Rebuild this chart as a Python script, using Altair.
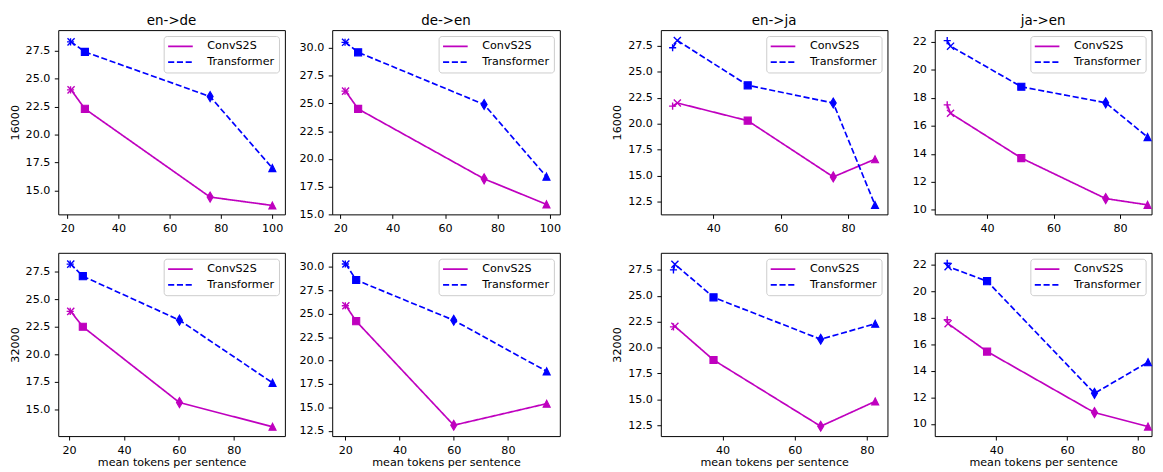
import altair as alt
import pandas as pd

FONT = "DejaVu Sans"

models = ["ConvS2S", "Transformer"]
model_colors = ["#bf00bf", "#0000ff"]
model_dashes = [[1, 0], [6.2, 2.7]]

marker_kinds = ["plus", "x", "square", "diamond", "triangle"]
marker_paths = [
    "M-1,0H1M0,-1V1",
    "M-1,-1L1,1M-1,1L1,-1",
    "M-1,-1H1V1H-1Z",
    "M0,-1.414L0.849,0L0,1.414L-0.849,0Z",
    "M0,-1L1,1L-1,1Z",
]
stroked_kinds = ["plus", "x"]
filled_kinds = ["square", "diamond", "triangle"]

pair_titles = ["en->de", "de->en", "en->ja", "ja->en"]
vocab_labels = ["16000", "32000"]
x_title = "mean tokens per sentence"

# ---- data: x = mean tokens per sentence, y = score ----
ende_16k_x = [21.3, 21.5, 26.9, 75.8, 100.1]
ende_16k_conv = [24.0, 24.0, 22.3, 14.4, 13.65]
ende_16k_trans = [28.3, 28.3, 27.4, 23.4, 17.0]

deen_16k_x = [21.8, 22.0, 26.8, 74.9, 98.7]
deen_16k_conv = [26.1, 26.1, 24.5, 18.2, 15.9]
deen_16k_trans = [30.5, 30.5, 29.6, 24.9, 18.4]

enja_16k_x = [27.9, 29.3, 50.2, 75.6, 88.0]
enja_16k_conv = [21.7, 22.0, 20.3, 14.9, 16.6]
enja_16k_trans = [27.3, 28.0, 23.7, 22.0, 12.2]

jaen_16k_x = [28.0, 29.0, 50.3, 75.7, 88.3]
jaen_16k_conv = [17.5, 16.9, 13.7, 10.8, 10.35]
jaen_16k_trans = [22.1, 21.7, 18.8, 17.65, 15.2]

ende_32k_x = [20.4, 20.6, 25.0, 60.2, 94.1]
ende_32k_conv = [23.9, 23.9, 22.5, 15.6, 13.4]
ende_32k_trans = [28.2, 28.2, 27.1, 23.1, 17.4]

deen_32k_x = [20.0, 20.2, 24.0, 60.0, 94.3]
deen_32k_conv = [25.85, 25.85, 24.2, 13.1, 15.4]
deen_32k_trans = [30.3, 30.3, 28.6, 24.3, 18.85]

enja_32k_x = [26.4, 26.8, 37.5, 67.2, 82.3]
enja_32k_conv = [22.0, 22.05, 18.8, 12.4, 14.8]
enja_32k_trans = [27.5, 28.05, 24.85, 20.8, 22.3]

jaen_32k_x = [26.15, 26.4, 37.4, 67.7, 82.8]
jaen_32k_conv = [17.85, 17.55, 15.45, 10.85, 9.8]
jaen_32k_trans = [22.1, 21.85, 20.75, 12.3, 14.65]

# ---- axis ranges and ticks ----
x_domains = [
    [[16.5, 105.0], [16.9, 103.8], [24.4, 91.7], [24.25, 89.5]],
    [[16.05, 98.6], [15.15, 99.15], [22.9, 85.7], [22.64, 83.8]],
]
y_domains = [
    [[12.85, 29.35], [15.0, 31.6], [11.3, 29.0], [9.67, 22.85]],
    [[12.55, 29.23], [11.94, 31.5], [11.45, 29.15], [9.08, 22.89]],
]
x_ticks = [
    [[20, 40, 60, 80, 100], [20, 40, 60, 80, 100], [40, 60, 80], [40, 60, 80]],
    [[20, 40, 60, 80], [20, 40, 60, 80], [40, 60, 80], [40, 60, 80]],
]
y_ticks = [
    [[15.0, 17.5, 20.0, 22.5, 25.0, 27.5], [15.0, 17.5, 20.0, 22.5, 25.0, 27.5, 30.0],
     [12.5, 15.0, 17.5, 20.0, 22.5, 25.0, 27.5], [10, 12, 14, 16, 18, 20, 22]],
    [[15.0, 17.5, 20.0, 22.5, 25.0, 27.5], [12.5, 15.0, 17.5, 20.0, 22.5, 25.0, 27.5, 30.0],
     [12.5, 15.0, 17.5, 20.0, 22.5, 25.0, 27.5], [10, 12, 14, 16, 18, 20, 22]],
]
y_formats = [".1f", ".1f", ".1f", "d"]

series = [
    [(ende_16k_x, ende_16k_conv, ende_16k_trans), (deen_16k_x, deen_16k_conv, deen_16k_trans),
     (enja_16k_x, enja_16k_conv, enja_16k_trans), (jaen_16k_x, jaen_16k_conv, jaen_16k_trans)],
    [(ende_32k_x, ende_32k_conv, ende_32k_trans), (deen_32k_x, deen_32k_conv, deen_32k_trans),
     (enja_32k_x, enja_32k_conv, enja_32k_trans), (jaen_32k_x, jaen_32k_conv, jaen_32k_trans)],
]

panel_widths = [230, 231, 230, 220]
row_heights = [187, 186]


def legend():
    return alt.Legend(
        title=None, orient="top-right", offset=6, padding=4.5, rowPadding=4,
        labelFont=FONT, labelFontSize=11.3, labelColor="black", labelOffset=21.3,
        symbolType="M-2.5,0H2.5", symbolSize=100, symbolStrokeWidth=1.7, symbolOffset=6.5,
        strokeColor="#cccccc", fillColor="rgba(255,255,255,0.8)", cornerRadius=3,
    )


def panel(r, c):
    xs, conv, trans = series[r][c]
    rows = []
    for model, ys in ((models[0], conv), (models[1], trans)):
        for i, (xv, yv) in enumerate(zip(xs, ys)):
            rows.append({"model": model, "x": xv, "y": yv, "marker": marker_kinds[i], "order": i})
    df = pd.DataFrame(rows)

    x_axis = alt.Axis(values=x_ticks[r][c], format="d", title=(x_title if r == 1 else None))
    y_axis = alt.Axis(values=y_ticks[r][c], format=y_formats[c],
                      title=(vocab_labels[r] if c in (0, 2) else None))
    x = alt.X("x:Q", scale=alt.Scale(domain=x_domains[r][c], nice=False, zero=False), axis=x_axis)
    y = alt.Y("y:Q", scale=alt.Scale(domain=y_domains[r][c], nice=False, zero=False), axis=y_axis)

    base = alt.Chart(df)
    line = base.mark_line(strokeWidth=1.7).encode(
        x=x, y=y, order="order:Q",
        color=alt.Color("model:N", scale=alt.Scale(domain=models, range=model_colors), legend=legend()),
        strokeDash=alt.StrokeDash("model:N", scale=alt.Scale(domain=models, range=model_dashes), legend=legend()),
    )
    stroked = base.transform_filter(
        alt.FieldOneOfPredicate(field="marker", oneOf=stroked_kinds)
    ).mark_point(filled=False, size=52, strokeWidth=1.4, opacity=1).encode(
        x=x, y=y,
        shape=alt.Shape("marker:N", scale=alt.Scale(domain=marker_kinds, range=marker_paths), legend=None),
        stroke=alt.Stroke("model:N", scale=alt.Scale(domain=models, range=model_colors), legend=None),
    )
    filled = base.transform_filter(
        alt.FieldOneOfPredicate(field="marker", oneOf=filled_kinds)
    ).mark_point(filled=True, size=52, strokeWidth=1.1, opacity=1).encode(
        x=x, y=y,
        shape=alt.Shape("marker:N", scale=alt.Scale(domain=marker_kinds, range=marker_paths), legend=None),
        fill=alt.Fill("model:N", scale=alt.Scale(domain=models, range=model_colors), legend=None),
        stroke=alt.Stroke("model:N", scale=alt.Scale(domain=models, range=model_colors), legend=None),
    )
    props = dict(width=panel_widths[c], height=row_heights[r])
    if r == 0:
        props["title"] = alt.TitleParams(text=pair_titles[c])
    return alt.layer(line, stroked, filled).properties(**props)


RES = dict(color="independent", strokeDash="independent")


def column(c):
    return alt.vconcat(panel(0, c), panel(1, c), spacing=17).resolve_scale(**RES)


left = alt.hconcat(column(0), column(1), spacing=10).resolve_scale(**RES)
right = alt.hconcat(column(2), column(3), spacing=10).resolve_scale(**RES)

chart = (
    alt.hconcat(left, right, spacing=50.5)
    .resolve_scale(**RES)
    .properties(padding={"left": 1, "top": 2, "right": 0, "bottom": 0})
    .configure_view(stroke="black", strokeWidth=1)
    .configure_axis(
        domain=False, grid=False, tickColor="black", tickWidth=1, tickSize=4,
        labelFont=FONT, labelFontSize=11.3, labelColor="black", labelPadding=4.5,
        titleFont=FONT, titleFontSize=11.3, titleFontWeight="normal", titleColor="black",
    )
    .configure_axisY(minExtent=36, maxExtent=36, titlePadding=2.5)
    .configure_axisX(minExtent=20, maxExtent=20, titlePadding=1)
    .configure_title(font=FONT, fontSize=13.6, fontWeight="normal", color="black",
                     offset=2.6, frame="group", anchor="middle")
)

chart.save("out.html", embed_options={"renderer": "svg", "actions": False})
